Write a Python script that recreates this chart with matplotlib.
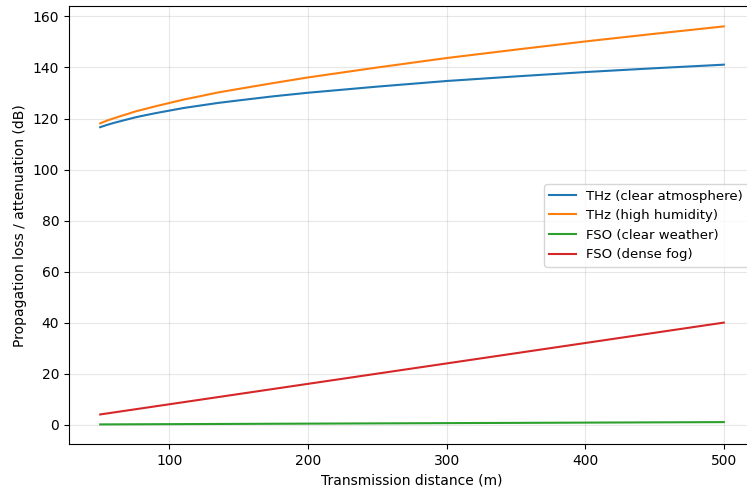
import matplotlib
matplotlib.use("Agg")
from matplotlib import pyplot as plt

# transmission distance (m)
distance = [50, 55, 60, 65, 70, 75, 80, 90, 100, 110, 120, 135, 150, 175, 200,
            250, 300, 350, 400, 450, 500]

# losses (dB)
thzClear = [116.6, 117.5, 118.3, 119.0, 119.7, 120.4, 121.0, 122.1, 123.1, 124.1,
            124.9, 126.1, 127.1, 128.7, 130.1, 132.5, 134.7, 136.5, 138.2, 139.7, 141.1]
thzHumid = [118.1, 119.2, 120.1, 121.0, 121.8, 122.7, 123.4, 124.8, 126.1, 127.4,
            128.5, 130.2, 131.6, 133.9, 136.1, 140.0, 143.7, 147.0, 150.2, 153.2, 156.1]
fsoClear = [0.1, 0.11, 0.12, 0.13, 0.14, 0.15, 0.16, 0.18, 0.2, 0.22,
            0.24, 0.27, 0.3, 0.35, 0.4, 0.5, 0.6, 0.7, 0.8, 0.9, 1.0]
fsoFog = [4.0, 4.4, 4.8, 5.2, 5.6, 6.0, 6.4, 7.2, 8.0, 8.8,
          9.6, 10.8, 12.0, 14.0, 16.0, 20.0, 24.0, 28.0, 32.0, 36.0, 40.0]

fig = plt.figure(figsize=(7.47, 4.9), dpi=100)
# axes runs slightly past the right edge, as in the reference
ax = fig.add_axes([69 / 747, 45.7 / 490, 686 / 747, 437.8 / 490])

ax.plot(distance, thzClear, label='THz (clear atmosphere)')
ax.plot(distance, thzHumid, label='THz (high humidity)')
ax.plot(distance, fsoClear, label='FSO (clear weather)')
ax.plot(distance, fsoFog, label='FSO (dense fog)')

ax.set_xlabel('Transmission distance (m)')
ax.set_ylabel('Propagation loss / attenuation (dB)')
ax.grid(True, alpha=0.3)
ax.legend(loc='center right', fontsize=9.5)

fig.savefig('out.png', dpi=100)
